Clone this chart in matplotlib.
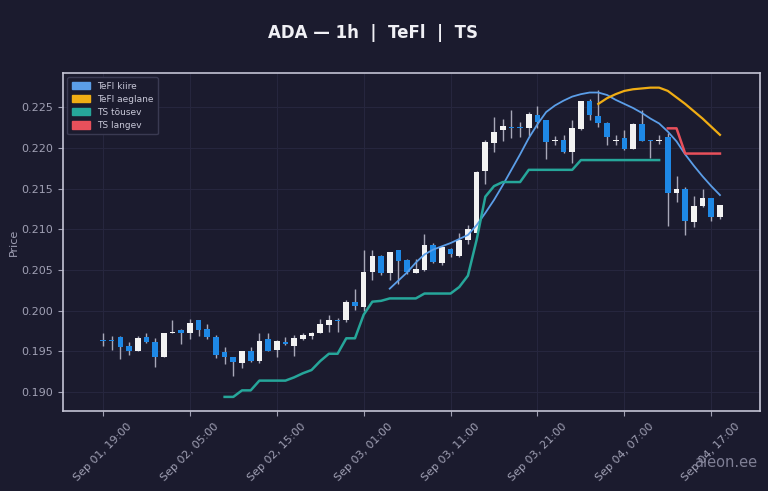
import numpy as np
import pandas as pd
import matplotlib
matplotlib.use("Agg")
import matplotlib.pyplot as plt
from matplotlib.patches import Patch

# ---- hourly OHLC, Sep 01 19:00 -> Sep 04 18:00 ----
times = pd.date_range("2025-09-01 19:00", periods=72, freq="h")

opens = [0.1964, 0.1964, 0.1967, 0.1957, 0.1951, 0.1967, 0.1962, 0.1943, 0.1973, 0.1976,
         0.1972, 0.1988, 0.1977, 0.1968, 0.1949, 0.1943, 0.1936, 0.1950, 0.1938, 0.1965,
         0.1952, 0.1961, 0.1957, 0.1965, 0.1969, 0.1972, 0.1982, 0.1989, 0.1988, 0.2011,
         0.2005, 0.2047, 0.2067, 0.2046, 0.2074, 0.2062, 0.2046, 0.2050, 0.2081, 0.2059,
         0.2076, 0.2067, 0.2087, 0.2096, 0.2171, 0.2206, 0.2222, 0.2226, 0.2226, 0.2224,
         0.2240, 0.2234, 0.2209, 0.2210, 0.2195, 0.2223, 0.2258, 0.2239, 0.2231, 0.2209,
         0.2212, 0.2199, 0.2229, 0.2210, 0.2208, 0.2213, 0.2145, 0.2150, 0.2109, 0.2128,
         0.2138, 0.2115]
highs = [0.1973, 0.1969, 0.1969, 0.1961, 0.1969, 0.1973, 0.1966, 0.1973, 0.1988, 0.1977,
         0.1990, 0.1989, 0.1983, 0.1970, 0.1955, 0.1943, 0.1950, 0.1955, 0.1972, 0.1972,
         0.1964, 0.1968, 0.1970, 0.1973, 0.1974, 0.1990, 0.1995, 0.1991, 0.2013, 0.2026,
         0.2075, 0.2074, 0.2068, 0.2072, 0.2075, 0.2063, 0.2063, 0.2094, 0.2083, 0.2079,
         0.2077, 0.2095, 0.2105, 0.2172, 0.2210, 0.2238, 0.2236, 0.2247, 0.2232, 0.2244,
         0.2252, 0.2234, 0.2215, 0.2216, 0.2234, 0.2257, 0.2260, 0.2271, 0.2232, 0.2216,
         0.2222, 0.2230, 0.2246, 0.2210, 0.2216, 0.2218, 0.2165, 0.2152, 0.2141, 0.2150,
         0.2138, 0.2130]
lows = [0.1956, 0.1952, 0.1941, 0.1945, 0.1951, 0.1960, 0.1931, 0.1943, 0.1972, 0.1959,
        0.1965, 0.1969, 0.1965, 0.1942, 0.1934, 0.1920, 0.1929, 0.1937, 0.1936, 0.1950,
        0.1943, 0.1958, 0.1944, 0.1964, 0.1965, 0.1972, 0.1974, 0.1974, 0.1986, 0.2001,
        0.2000, 0.2038, 0.2044, 0.2038, 0.2033, 0.2045, 0.2046, 0.2049, 0.2059, 0.2056,
        0.2066, 0.2066, 0.2082, 0.2095, 0.2156, 0.2195, 0.2209, 0.2212, 0.2213, 0.2214,
        0.2224, 0.2186, 0.2203, 0.2194, 0.2182, 0.2222, 0.2234, 0.2226, 0.2203, 0.2203,
        0.2197, 0.2198, 0.2208, 0.2188, 0.2205, 0.2104, 0.2133, 0.2093, 0.2103, 0.2127,
        0.2110, 0.2113]
closes = [0.1963, 0.1963, 0.1955, 0.1951, 0.1966, 0.1962, 0.1943, 0.1972, 0.1974, 0.1972,
          0.1985, 0.1976, 0.1967, 0.1945, 0.1943, 0.1937, 0.1950, 0.1938, 0.1963, 0.1951,
          0.1963, 0.1959, 0.1966, 0.1970, 0.1972, 0.1984, 0.1989, 0.1987, 0.2010, 0.2006,
          0.2048, 0.2067, 0.2046, 0.2072, 0.2061, 0.2047, 0.2051, 0.2081, 0.2060, 0.2078,
          0.2069, 0.2087, 0.2100, 0.2170, 0.2207, 0.2220, 0.2227, 0.2225, 0.2225, 0.2241,
          0.2232, 0.2207, 0.2210, 0.2195, 0.2224, 0.2257, 0.2240, 0.2230, 0.2213, 0.2210,
          0.2198, 0.2229, 0.2209, 0.2209, 0.2210, 0.2145, 0.2150, 0.2110, 0.2128, 0.2138,
          0.2115, 0.2130]

# ---- indicator lines (start index, values) ----
kiire_start = 33
kiire = [0.2027, 0.2037, 0.2047, 0.2059, 0.2069, 0.2075, 0.2079, 0.2083, 0.2088, 0.2093,
         0.2105, 0.2120, 0.2136, 0.2154, 0.2173, 0.2192, 0.2212, 0.2229, 0.2244, 0.2252,
         0.2258, 0.2263, 0.2266, 0.2268, 0.2268, 0.2265, 0.2259, 0.2254, 0.2249, 0.2243,
         0.2236, 0.2230, 0.2220, 0.2208, 0.2192, 0.2178, 0.2165, 0.2153, 0.2142]
aeglane_start = 57
aeglane = [0.2254, 0.2261, 0.2266, 0.2270, 0.2272, 0.2273, 0.2274, 0.2274, 0.2270, 0.2262,
           0.2254, 0.2245, 0.2236, 0.2226, 0.2216]
tousev_start = 14
tousev = [0.1894, 0.1894, 0.1902, 0.1902, 0.1914, 0.1914, 0.1914, 0.1914, 0.1918, 0.1923,
          0.1927, 0.1938, 0.1947, 0.1947, 0.1966, 0.1966, 0.1995, 0.2011, 0.2012, 0.2015,
          0.2015, 0.2015, 0.2015, 0.2021, 0.2021, 0.2021, 0.2021, 0.2029, 0.2043, 0.2087,
          0.2140, 0.2153, 0.2158, 0.2158, 0.2158, 0.2173, 0.2173, 0.2173, 0.2173, 0.2173,
          0.2173, 0.2185, 0.2185, 0.2185, 0.2185, 0.2185, 0.2185, 0.2185, 0.2185, 0.2185,
          0.2185]
langev_start = 65
langev = [0.2224, 0.2224, 0.2193, 0.2193, 0.2193, 0.2193, 0.2193]

BG = "#1b1b2e"
UP, DOWN = "#f2f2f2", "#1e88e5"
C_KIIRE, C_AEG, C_TOUS, C_LANG = "#5b9ee8", "#f0ad14", "#26a69a", "#e8505b"
TXT = "#a0a0b4"

fig = plt.figure(figsize=(7.68, 4.91), dpi=100, facecolor=BG)
ax = fig.add_axes([0.082, 0.162, 0.9075, 0.690], facecolor=BG)

x = np.arange(len(times))
o, h, l, c = map(np.array, (opens, highs, lows, closes))
up = c >= o
body_lo = np.minimum(o, c)
body_h = np.maximum(np.abs(c - o), 0.00008)

# wicks then bodies
ax.vlines(x, l, h, color="#a8a8b8", lw=1.0, zorder=2)
ax.bar(x[up], body_h[up], bottom=body_lo[up], width=0.65, color=UP, zorder=3)
ax.bar(x[~up], body_h[~up], bottom=body_lo[~up], width=0.65, color=DOWN, zorder=3)

ax.plot(np.arange(kiire_start, kiire_start + len(kiire)), kiire, color=C_KIIRE, lw=1.3, zorder=4)
ax.plot(np.arange(aeglane_start, aeglane_start + len(aeglane)), aeglane, color=C_AEG, lw=1.6, zorder=4)
ax.plot(np.arange(tousev_start, tousev_start + len(tousev)), tousev, color=C_TOUS, lw=1.8, zorder=4)
ax.plot(np.arange(langev_start, langev_start + len(langev)), langev, color=C_LANG, lw=1.8, zorder=4)

ax.set_xlim(-4.6, 75.6)
ax.set_ylim(0.18761, 0.22924)
ax.set_xticks(x[::10])
ax.set_xticklabels([t.strftime("%b %d, %H:%M") for t in times[::10]], rotation=45, ha="center")
ax.set_yticks(np.arange(0.190, 0.2251, 0.005))
ax.yaxis.set_major_formatter(matplotlib.ticker.FormatStrFormatter("%.3f"))
ax.tick_params(colors=TXT, labelsize=8, length=3.5)
ax.grid(True, color="#27273f", lw=0.7)
ax.set_axisbelow(True)
for s in ax.spines.values():
    s.set_color("#c4c4d4")
    s.set_linewidth(1.2)
ax.set_ylabel("Price", color=TXT, fontsize=8, labelpad=2)

handles = [Patch(color=C_KIIRE, label="TeFl kiire"), Patch(color=C_AEG, label="TeFl aeglane"),
           Patch(color=C_TOUS, label="TS tõusev"), Patch(color=C_LANG, label="TS langev")]
ax.legend(handles=handles, loc="upper left", fontsize=6.5, facecolor=BG,
          edgecolor="#3a3a52", labelcolor="#c8c8d8", framealpha=1.0,
          handlelength=2.0, handleheight=0.9, borderpad=0.5, labelspacing=0.45)

fig.text(0.486, 0.932, "ADA — 1h  |  TeFl  |  TS", ha="center", va="center",
         color="#f0f0f5", fontsize=12, fontweight="bold")
fig.text(0.986, 0.058, "aieon.ee", ha="right", va="center", color="#8a8aa0",
         fontsize=10.5, alpha=0.9)

fig.savefig("out.png", dpi=100, facecolor=BG)
